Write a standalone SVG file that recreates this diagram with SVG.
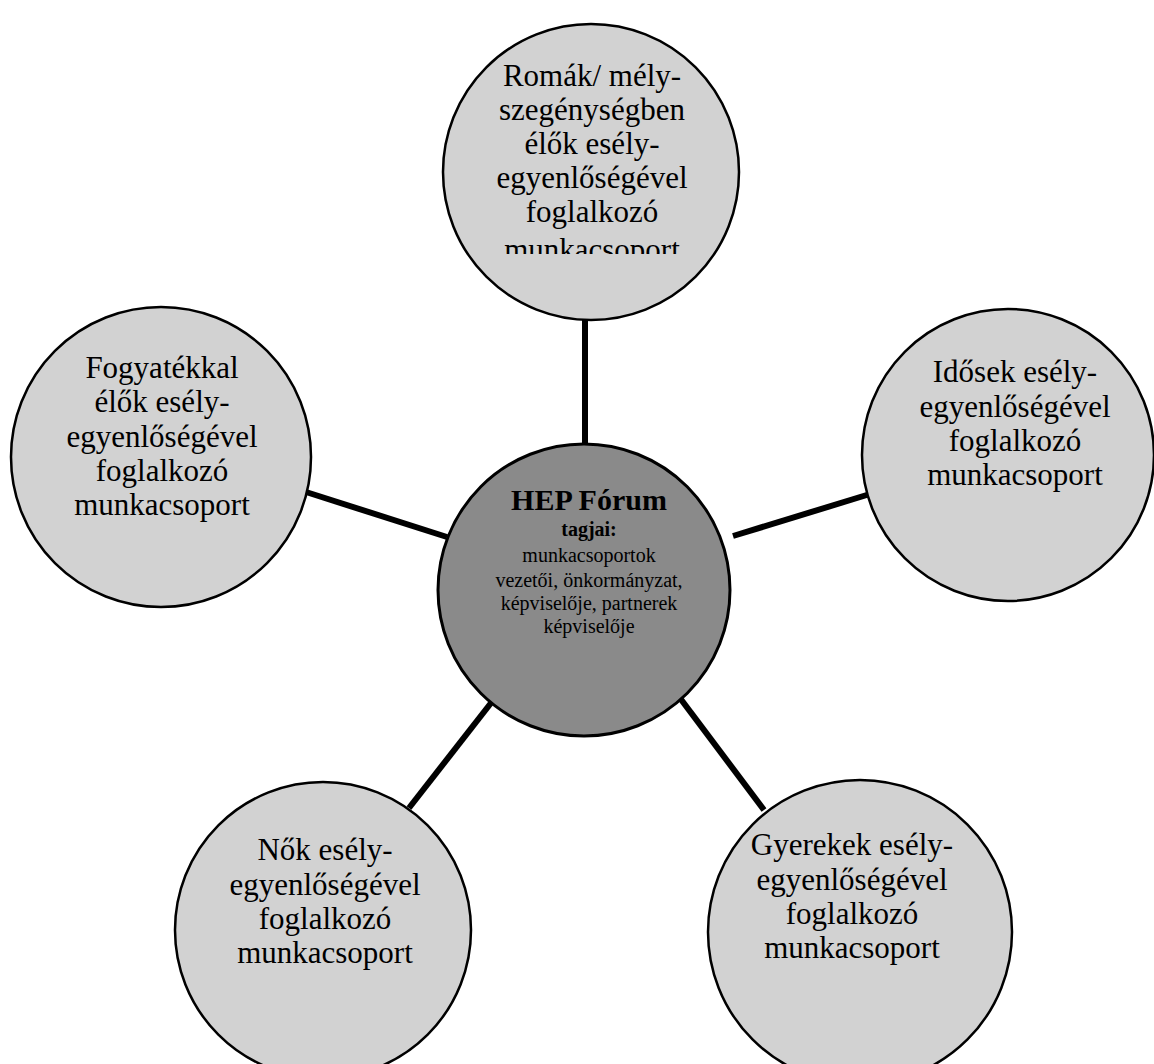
<svg xmlns="http://www.w3.org/2000/svg" width="1154" height="1064" viewBox="0 0 1154 1064">
<style>
.outer{fill:#d2d2d2;stroke:#000;stroke-width:2.5}
.center{fill:#8a8a8a;stroke:#000;stroke-width:3}
.lbl{font-family:"Liberation Serif","Times New Roman",serif;font-size:31px;fill:#000;text-anchor:middle}
.clbl{font-family:"Liberation Serif","Times New Roman",serif;font-size:20px;fill:#000;text-anchor:middle}
.conn{stroke:#000;stroke-width:6;stroke-linecap:butt}
</style>
<defs>
<clipPath id="topclip"><rect x="440" y="20" width="300" height="234"/></clipPath>
</defs>
<rect width="1154" height="1064" fill="#fff"/>
<g id="connectors">
<line class="conn" x1="585" y1="318" x2="585" y2="446"/>
<line class="conn" x1="306" y1="492" x2="447" y2="537"/>
<line class="conn" x1="733" y1="536" x2="870" y2="494"/>
<line class="conn" x1="498" y1="694" x2="409" y2="808"/>
<line class="conn" x1="677" y1="694" x2="764" y2="810"/>
</g>
<g id="node-romak">
<circle class="outer" cx="591" cy="172" r="148"/>
<text class="lbl" clip-path="url(#topclip)"><tspan x="592" y="86">Romák/ mély-</tspan><tspan x="592" y="120">szegénységben</tspan><tspan x="592" y="154">élők esély-</tspan><tspan x="592" y="188">egyenlőségével</tspan><tspan x="592" y="222">foglalkozó</tspan><tspan x="592" y="260">munkacsoport</tspan></text>
</g>
<g id="node-fogyatekkal">
<circle class="outer" cx="161" cy="457" r="150"/>
<text class="lbl"><tspan x="162" y="378">Fogyatékkal</tspan><tspan x="162" y="412">élők esély-</tspan><tspan x="162" y="447">egyenlőségével</tspan><tspan x="162" y="481">foglalkozó</tspan><tspan x="162" y="515">munkacsoport</tspan></text>
</g>
<g id="node-idosek">
<circle class="outer" cx="1008" cy="455" r="146"/>
<text class="lbl"><tspan x="1015" y="382">Idősek esély-</tspan><tspan x="1015" y="417">egyenlőségével</tspan><tspan x="1015" y="451">foglalkozó</tspan><tspan x="1015" y="485">munkacsoport</tspan></text>
</g>
<g id="node-nok">
<circle class="outer" cx="323" cy="930" r="148"/>
<text class="lbl"><tspan x="325" y="860">Nők esély-</tspan><tspan x="325" y="895">egyenlőségével</tspan><tspan x="325" y="929">foglalkozó</tspan><tspan x="325" y="963">munkacsoport</tspan></text>
</g>
<g id="node-gyerekek">
<circle class="outer" cx="860" cy="932" r="152"/>
<text class="lbl"><tspan x="852" y="855">Gyerekek esély-</tspan><tspan x="852" y="890">egyenlőségével</tspan><tspan x="852" y="924">foglalkozó</tspan><tspan x="852" y="958">munkacsoport</tspan></text>
</g>
<g id="node-hep">
<circle class="center" cx="584" cy="590" r="146"/>
<text class="clbl"><tspan x="589" y="510" font-size="30" font-weight="bold">HEP Fórum</tspan><tspan x="589" y="536" font-weight="bold">tagjai:</tspan><tspan x="589" y="562">munkacsoportok</tspan><tspan x="589" y="587">vezetői, önkormányzat,</tspan><tspan x="589" y="610">képviselője, partnerek</tspan><tspan x="589" y="633">képviselője</tspan></text>
</g>
</svg>
